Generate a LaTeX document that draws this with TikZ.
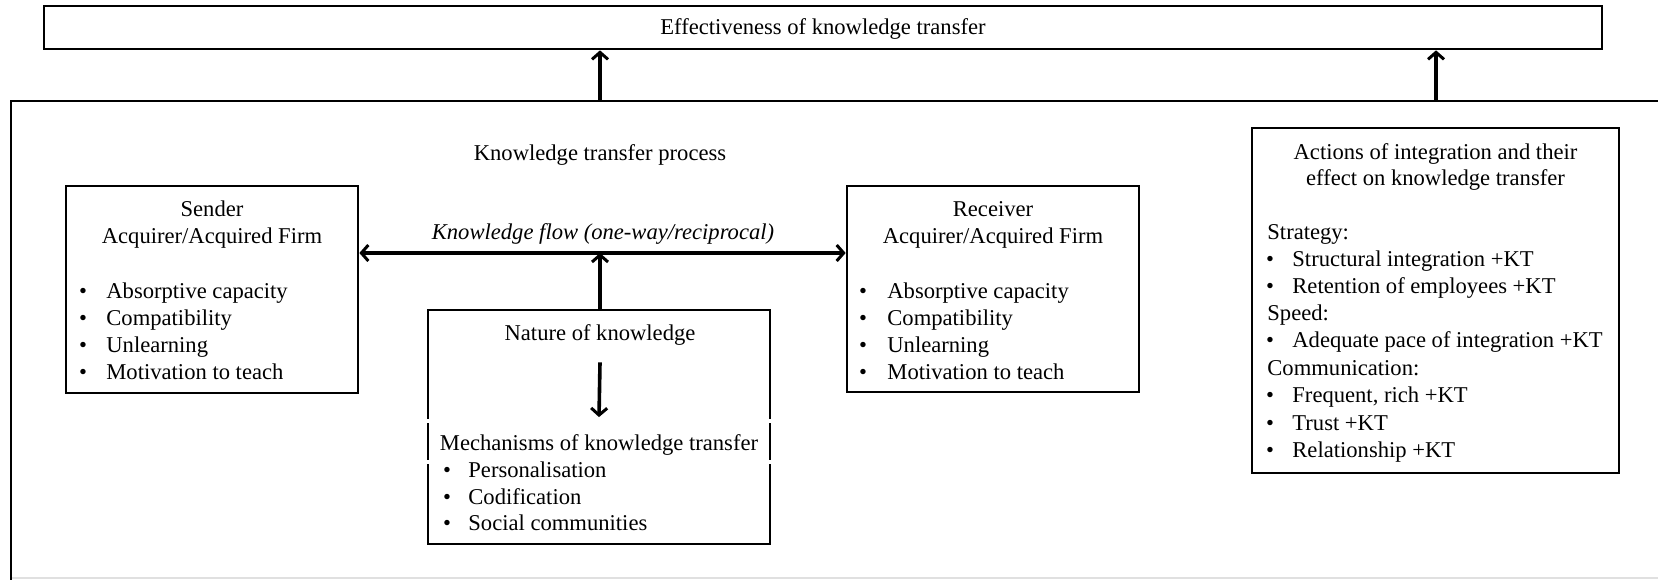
\documentclass[tikz,border=0pt]{standalone}
\usepackage{fontspec}
\setmainfont{Liberation Serif}
\usetikzlibrary{arrows.meta}
\begin{document}
\begin{tikzpicture}[x=0.5pt,y=-0.5pt,
  font=\fontsize{11.3pt}{13.65pt}\selectfont,
  boxn/.style={draw=black, line width=1.35pt, rectangle, inner sep=0pt},
  txt/.style={anchor=base, inner sep=0pt},
  ltxt/.style={anchor=base west, inner sep=0pt},
  bul/.style={anchor=base, inner sep=0pt},
  tip/.style={},
  arr/.style={line width=1.8pt, -{Straight Barb[length=3.5pt,width=8pt,line width=1.5pt]}},
  darr/.style={line width=1.8pt, {Straight Barb[length=3.5pt,width=8pt,line width=1.5pt]}-{Straight Barb[length=3.5pt,width=8pt,line width=1.5pt]}}
]
\useasboundingbox (0,0) rectangle (1658,579);
\fill[white] (0,0) rectangle (1658,579);

% outer process frame
\draw[line width=1.35pt] (1660,101) -- (11,101) -- (11,580);
\draw[black!12, line width=1pt] (12,578) -- (1658,578);
\coordinate (p1) at (600,101);
\coordinate (p2) at (1436,101);

% top box
\node[boxn, minimum width=779pt, minimum height=21.5pt] (eff) at (823,27.5) {};
\node[txt] (efft) at (823,34) {Effectiveness of knowledge transfer};

\draw[arr] (p1) -- (eff.south -| p1);
\draw[arr] (p2) -- (eff.south -| p2);

\node[txt] (ktp) at (600,160) {Knowledge transfer process};

% sender
\node[boxn, minimum width=146pt, minimum height=103.5pt] (sender) at (212,289.5) {};
\node[txt] (s1) at (212,216) {Sender};
\node[txt] (s2) at (212,243) {Acquirer/Acquired Firm};
\foreach \yy/\tt [count=\i] in {298/Absorptive capacity,325/Compatibility,352/Unlearning,379/Motivation to teach}{
  \node[bul] (sb\i) at (83,\yy) {\textbullet};
  \node[ltxt] (st\i) at (106,\yy) {\tt};
}

% receiver
\node[boxn, minimum width=146pt, minimum height=103pt] (receiver) at (993,289) {};
\node[txt] (r1) at (993,216) {Receiver};
\node[txt] (r2) at (993,243) {Acquirer/Acquired Firm};
\foreach \yy/\tt [count=\i] in {298/Absorptive capacity,325/Compatibility,352/Unlearning,379/Motivation to teach}{
  \node[bul] (rb\i) at (863,\yy) {\textbullet};
  \node[ltxt] (rt\i) at (887,\yy) {\tt};
}

% knowledge flow
\coordinate (flowc) at (600,253);
\node[txt] (flowlbl) at (603,239) {\itshape Knowledge flow (one-way/reciprocal)};
\draw[darr] (sender.east |- flowc) -- (receiver.west |- flowc);

% nature box
\node[boxn, minimum width=171pt, minimum height=117pt] (nature) at (599,427) {};
\draw[arr] (nature.north -| flowc) -- (flowc);
\node[txt] (nok) at (600,340) {Nature of knowledge};
\node[txt] (mech) at (599,450) {Mechanisms of knowledge transfer};
\draw[arr] ([yshift=-8.5pt]nok.south) -- ([yshift=8.3pt]mech.north);
% small gaps in the side borders
\foreach \gy in {420.5,462}{
  \fill[white] (424,\gy-2) rectangle (433,\gy+2);
  \fill[white] (765,\gy-2) rectangle (774,\gy+2);
}
\foreach \yy/\tt [count=\i] in {477/Personalisation,504/Codification,530/Social communities}{
  \node[bul] (mb\i) at (447,\yy) {\textbullet};
  \node[ltxt] (mt\i) at (468,\yy) {\tt};
}

% actions box
\node[boxn, minimum width=183.5pt, minimum height=172.5pt] (actions) at (1435.5,300.5) {};
\node[txt] (a1) at (1435.5,159) {Actions of integration and their};
\node[txt] (a2) at (1435.5,185) {effect on knowledge transfer};
\node[ltxt] (h1) at (1267,239) {Strategy:};
\node[ltxt] (h2) at (1267,320) {Speed:};
\node[ltxt] (h3) at (1267,375) {Communication:};
\foreach \yy/\tt [count=\i] in {266/Structural integration +KT,293/Retention of employees +KT,347/Adequate pace of integration +KT,402/{Frequent, rich +KT},430/Trust +KT,457/Relationship +KT}{
  \node[bul] (ab\i) at (1270,\yy) {\textbullet};
  \node[ltxt] (at\i) at (1292,\yy) {\tt};
}
\end{tikzpicture}
\end{document}
